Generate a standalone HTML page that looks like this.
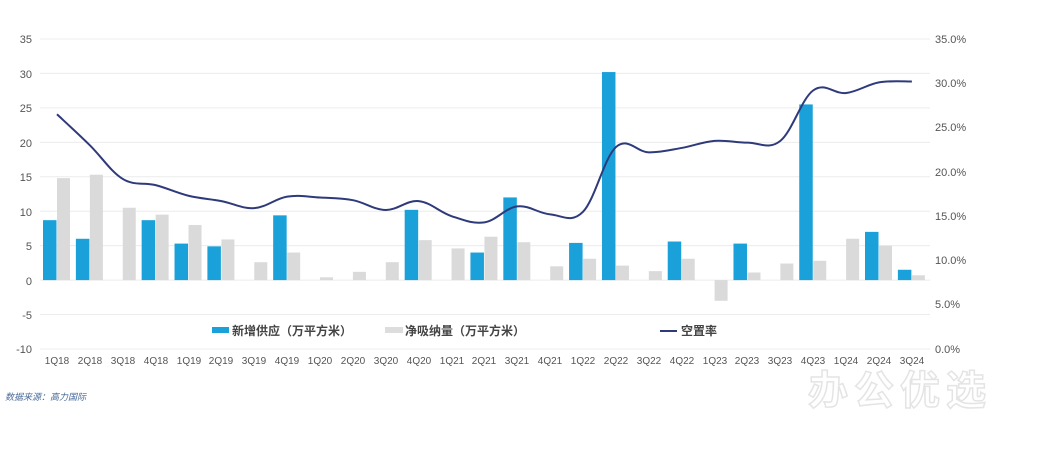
<!DOCTYPE html>
<html><head><meta charset="utf-8"><style>
body{margin:0;background:#fff;}
svg{display:block;font-family:"Liberation Sans","Noto Sans CJK SC",sans-serif;}
</style></head><body>
<svg id="c" width="1058" height="469" viewBox="0 0 1058 469">
<g id="grid" stroke="#ececec" stroke-width="1"></g>
<g id="bars"></g>
<path id="ln" fill="none" stroke="#2e3a7a" stroke-width="2"/>
<g font-size="11" fill="#555" text-anchor="end">
<text x="32" y="43">35</text><text x="32" y="78">30</text><text x="32" y="112">25</text><text x="32" y="147">20</text><text x="32" y="181">15</text><text x="32" y="216">10</text><text x="32" y="250">5</text><text x="32" y="285">0</text><text x="32" y="319">-5</text><text x="32" y="353">-10</text>
</g>
<g font-size="11" fill="#555">
<text x="935" y="43">35.0%</text><text x="935" y="87">30.0%</text><text x="935" y="131">25.0%</text><text x="935" y="176">20.0%</text><text x="935" y="220">15.0%</text><text x="935" y="264">10.0%</text><text x="935" y="308">5.0%</text><text x="935" y="353">0.0%</text>
</g>
<text x="808" y="404" font-size="40" font-weight="bold" fill="#fff" stroke="#e4e4e4" stroke-width="1.5" letter-spacing="6">办公优选</text>
<g font-size="10" fill="#555" text-anchor="middle">
<text x="57" y="364">1Q18</text><text x="90" y="364">2Q18</text><text x="123" y="364">3Q18</text><text x="156" y="364">4Q18</text><text x="189" y="364">1Q19</text><text x="221" y="364">2Q19</text><text x="254" y="364">3Q19</text><text x="287" y="364">4Q19</text><text x="320" y="364">1Q20</text><text x="353" y="364">2Q20</text><text x="386" y="364">3Q20</text><text x="419" y="364">4Q20</text><text x="452" y="364">1Q21</text><text x="484" y="364">2Q21</text><text x="517" y="364">3Q21</text><text x="550" y="364">4Q21</text><text x="583" y="364">1Q22</text><text x="616" y="364">2Q22</text><text x="649" y="364">3Q22</text><text x="682" y="364">4Q22</text><text x="715" y="364">1Q23</text><text x="747" y="364">2Q23</text><text x="780" y="364">3Q23</text><text x="813" y="364">4Q23</text><text x="846" y="364">1Q24</text><text x="879" y="364">2Q24</text><text x="912" y="364">3Q24</text>
</g>
<rect x="212" y="327" width="17" height="6" fill="#1ba1d9"/>
<text x="232" y="335" font-size="12" font-weight="bold" fill="#444">新增供应（万平方米）</text>
<rect x="385" y="327" width="18" height="6" fill="#ddd"/>
<text x="405" y="335" font-size="12" font-weight="bold" fill="#444">净吸纳量（万平方米）</text>
<line x1="660" y1="331" x2="677" y2="331" stroke="#2e3a7a" stroke-width="2"/>
<text x="681" y="335" font-size="12" font-weight="bold" fill="#444">空置率</text>
<text x="5" y="400" font-size="9" font-style="italic" fill="#4a6a9a">数据来源：高力国际</text>
</svg>
<script>
var ns="http://www.w3.org/2000/svg";
var g=document.getElementById('grid'),b=document.getElementById('bars');
function Y(v){return 280.1-v*6.889;}
function YP(p){return 349-p*8.857;}
for(var v=-10;v<=35;v+=5){var l=document.createElementNS(ns,'line');l.setAttribute('x1',40);l.setAttribute('x2',930);l.setAttribute('y1',Y(v));l.setAttribute('y2',Y(v));g.appendChild(l);}
var blue=[8.7,6.0,0,8.7,5.3,4.9,0,9.4,0,0,0,10.2,0,4.0,12.0,0,5.4,30.2,0,5.6,0,5.3,0,25.5,0,7.0,1.5];
var gray=[14.8,15.3,10.5,9.5,8.0,5.9,2.6,4.0,0.4,1.2,2.6,5.8,4.6,6.3,5.5,2.0,3.1,2.1,1.3,3.1,-3.0,1.1,2.4,2.8,6.0,5.0,0.7];
var vac=[26.5,23,19.2,18.5,17.3,16.7,15.9,17.2,17.1,16.8,15.7,16.7,15.0,14.3,16.1,15.2,15.5,22.8,22.2,22.7,23.5,23.3,23.5,29.2,28.9,30.1,30.2];
function rect(x,v,w,c){if(!v)return;var r=document.createElementNS(ns,'rect');var y0=Y(0),y1=Y(v);r.setAttribute('x',x);r.setAttribute('width',w);r.setAttribute('y',Math.min(y0,y1));r.setAttribute('height',Math.abs(y1-y0));r.setAttribute('fill',c);b.appendChild(r);}
var pts=[];
for(var i=0;i<27;i++){var x=57+32.88*i;rect(x-14,blue[i],13.5,'#1ba1d9');rect(x,gray[i],13,'#dadada');pts.push([x,YP(vac[i])]);}
var d='M'+pts[0][0]+','+pts[0][1];
for(var i=0;i<pts.length-1;i++){var p0=pts[Math.max(0,i-1)],p1=pts[i],p2=pts[i+1],p3=pts[Math.min(pts.length-1,i+2)];var t=0.18;
d+=' C'+(p1[0]+(p2[0]-p0[0])*t)+','+(p1[1]+(p2[1]-p0[1])*t)+' '+(p2[0]-(p3[0]-p1[0])*t)+','+(p2[1]-(p3[1]-p1[1])*t)+' '+p2[0]+','+p2[1];}
document.getElementById('ln').setAttribute('d',d);
</script>
</body></html>
